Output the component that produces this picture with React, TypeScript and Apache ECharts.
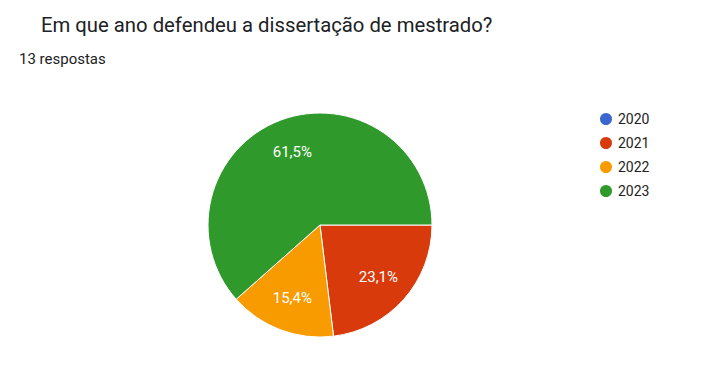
import React, { useEffect, useRef } from "react";
import * as echarts from "echarts";

const title = "Em que ano defendeu a dissertação de mestrado?";
const subtitle = "13 respostas";
const categories = ["2020", "2021", "2022", "2023"];
const counts = [0, 3, 2, 8];
const colors = ["#3b67cf", "#d83a0c", "#f89b00", "#2f9a2b"];

export default function App() {
  const ref = useRef<HTMLDivElement>(null);
  useEffect(() => {
    if (!ref.current) return;
    const chart = echarts.init(ref.current, null, { renderer: "svg" });
    const total = counts.reduce((a, b) => a + b, 0);
    const data = categories.map((c, i) => ({
      name: c,
      value: counts[i],
      itemStyle: { color: colors[i] },
    }));
    chart.setOption({
      animation: false,
      backgroundColor: "#ffffff",
      title: [
        {
          text: title,
          left: 36,
          top: 10,
          textStyle: {
            fontFamily: "Roboto",
            fontSize: 20.3,
            fontWeight: "normal",
            color: "#202124",
          },
        },
        {
          text: subtitle,
          left: 14,
          top: 46,
          textStyle: {
            fontFamily: "Roboto",
            fontSize: 15,
            fontWeight: "normal",
            color: "#202124",
          },
        },
      ],
      legend: {
        orient: "vertical",
        left: 593,
        top: 106,
        icon: "circle",
        itemWidth: 14,
        itemHeight: 14,
        itemGap: 8,
        data: categories,
        textStyle: { fontFamily: "Roboto", fontSize: 14, color: "#222222" },
      },
      series: [
        {
          type: "pie",
          center: [320, 225],
          radius: [0, 112],
          startAngle: 0,
          clockwise: true,
          silent: true,
          label: { show: false },
          labelLine: { show: false },
          itemStyle: { borderColor: "#ffffff", borderWidth: 1 },
          data,
        },
        {
          type: "pie",
          center: [320, 225],
          radius: [38, 112],
          startAngle: 0,
          clockwise: true,
          silent: true,
          legendHoverLink: false,
          itemStyle: { color: "rgba(0,0,0,0)", borderWidth: 0 },
          label: {
            show: true,
            position: "inside",
            color: "#ffffff",
            fontFamily: "Roboto",
            fontSize: 15,
            formatter: (p: any) =>
              p.value > 0
                ? ((p.value / total) * 100).toFixed(1).replace(".", ",") + "%"
                : "",
          },
          labelLine: { show: false },
          data: categories.map((c, i) => ({ name: c, value: counts[i] })),
        },
      ],
    });
    return () => chart.dispose();
  }, []);
  return (
    <div
      ref={ref}
      style={{ position: "fixed", left: 0, top: 0, width: 725, height: 372 }}
    />
  );
}
